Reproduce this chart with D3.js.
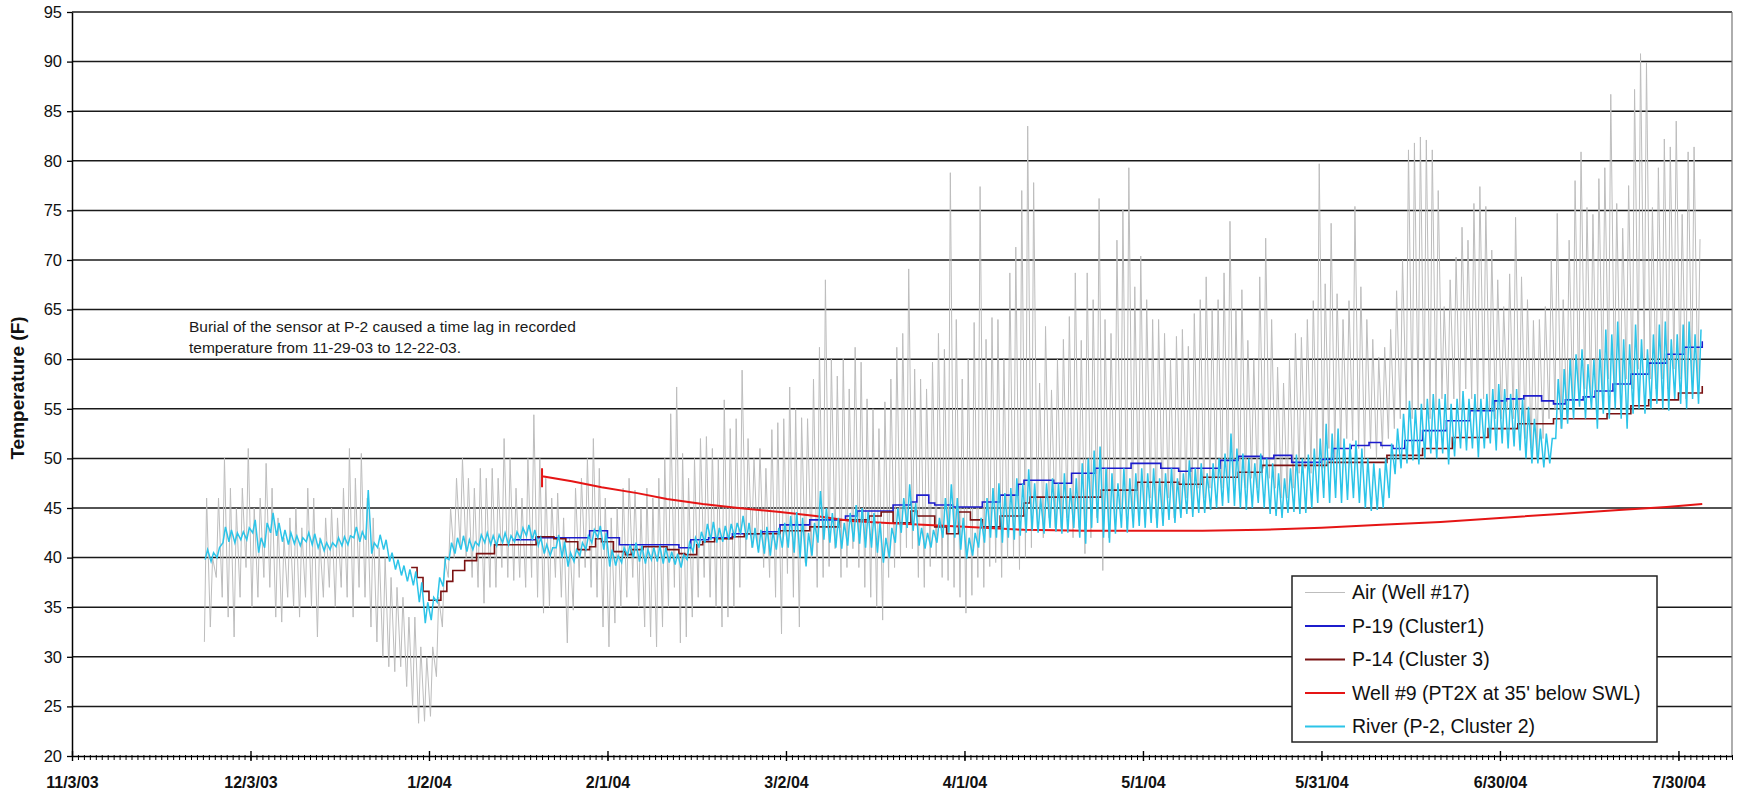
<!DOCTYPE html>
<html>
<head>
<meta charset="utf-8">
<script src="https://cdnjs.cloudflare.com/ajax/libs/d3/7.8.5/d3.min.js"></script>
<style>
body { margin: 0; background: #fff; }
text { font-family: "Liberation Sans", Arial, sans-serif; }
</style>
</head>
<body>
<div id="chart"></div>
<script>
// axis labels
var tickLabels = ["11/3/03", "12/3/03", "1/2/04", "2/1/04", "3/2/04", "4/1/04", "5/1/04", "5/31/04", "6/30/04", "7/30/04"];
var yTicks = [20, 25, 30, 35, 40, 45, 50, 55, 60, 65, 70, 75, 80, 85, 90, 95];
var seriesNames = ["Air (Well #17)", "P-19 (Cluster1)", "P-14 (Cluster 3)", "Well #9 (PT2X at 35' below SWL)", "River (P-2, Cluster 2)"];
var seriesColors = ["#bdbdbd", "#1c1ccc", "#7a1212", "#e51515", "#2cc4e8"];

// Air (Well #17): daily highs / lows from 11/25/03, one row = one week
var airStart = "2003-11-25";
var airHigh = [
  46, 40, 46, 50, 47, 45, 47,
  51, 45, 46, 49.5, 47, 44, 42,
  44, 45, 43, 47, 46, 42, 44,
  45, 44, 47, 51, 48, 50.5, 46,
  44, 41, 40, 38, 37, 36, 34,
  34, 31, 30, 31, 36, 40, 45,
  48, 50, 48, 47, 49, 48, 49,
  48, 52, 50, 47, 46, 50, 54.4,
  50, 48, 46, 46.5, 44, 42, 47,
  48, 50, 52, 49, 46, 44, 45,
  47, 48, 46.8, 45, 47, 46, 48,
  50, 54.5, 57.2, 50.5, 48, 50, 52,
  52.2, 51, 50, 55.9, 53, 54, 58.9,
  52, 50, 51, 49, 52.9, 53.6, 54,
  57.2, 55, 54.1, 54, 58, 61.2, 68,
  60, 58.3, 60.1, 57, 61.2, 59.7, 56,
  55, 53, 55.7, 58, 61.2, 62.6, 69.1,
  59, 58, 57, 59.7, 62.6, 61, 78.8,
  64, 58, 60, 63.7, 77.4, 62, 64.2,
  64, 60, 68.7, 71.3, 77, 83.5, 77.8,
  57.6, 63.3, 56.9, 60, 62, 64.3, 68.7,
  61.9, 68.7, 66, 76.2, 64, 62.6, 72,
  75.1, 79.3, 67.3, 70.4, 66, 64, 64,
  62.6, 60, 62.3, 63, 61.3, 64.6, 66,
  68.3, 65, 66, 68.7, 73.9, 65, 67,
  61.9, 60, 68.3, 72.2, 64, 59.2, 57.6,
  60, 62.6, 62.2, 64, 65.9, 79.7, 67.6,
  73.7, 66.6, 64, 65.9, 75.4, 67.3, 64,
  62, 60.2, 61.2, 63, 66.9, 70, 81.1,
  81.8, 82.4, 82.1, 81.1, 77, 65.3, 68,
  70.3, 73.3, 72, 75.7, 77.4, 75.4, 71,
  68, 65.3, 68.6, 74.3, 68.3, 66, 63.9,
  64, 65.3, 70, 74.7, 66, 72, 78,
  80.9, 75.3, 74.6, 78.2, 79.3, 86.7, 75.7,
  73.2, 77.5, 87.2, 90.8, 89.9, 75.3, 79.3,
  82.2, 81.4, 84, 74.6, 80.9, 81.4, 72.1
];
var airLow = [
  31.5, 33, 38, 36, 34, 32, 36,
  39, 35, 36, 38, 37, 34, 33.5,
  36, 35, 34, 36, 35, 32, 36,
  37, 35, 37, 36, 34, 37, 36,
  33, 31.5, 30, 29, 28.5, 29, 27,
  25, 23.3, 23.5, 24, 28, 33, 38,
  40, 41, 40, 38, 37, 35.4, 37,
  37, 39, 38, 37.7, 38, 37, 38,
  36, 34.4, 35, 38, 36, 31.4, 34.7,
  38, 39, 37, 36, 33, 31, 33.4,
  35, 36, 38, 35, 33, 32, 31,
  33, 35, 37, 31.4, 32, 34, 36,
  38, 36, 35, 33, 34, 35, 37,
  40, 41, 40.9, 39, 38, 36, 32.3,
  38.4, 36, 33, 39.5, 40, 37, 38,
  39.1, 40.9, 38, 39, 40.9, 39, 37,
  36, 35, 33.7, 38, 39, 40, 41,
  40.9, 38, 37, 39.1, 40, 38, 37.7,
  37, 36, 34.4, 36.2, 38, 37, 39.1,
  39.5, 38, 39.9, 40, 38.8, 40, 41,
  43, 42, 44, 43, 43, 44, 42,
  43, 40.4, 42, 44, 38.7, 42, 44,
  45, 43, 44, 45, 45, 46, 44,
  45, 46, 44, 45, 46, 45, 47,
  46, 47, 48, 47, 48, 47, 46,
  47, 48, 47, 49, 48, 47, 46,
  46, 47, 48.5, 49, 48.5, 50, 49,
  51, 50, 51, 52, 51.8, 51, 50,
  51, 50, 51, 52, 53, 54, 55,
  54, 55, 55, 54, 55, 56, 55,
  56, 55, 57, 56, 55, 56, 55,
  54, 54, 55, 54, 53, 52, 51,
  50, 52, 54, 55, 53, 54, 55,
  56, 57, 56, 55, 57, 58, 57,
  56, 58, 57, 59, 60, 58, 57,
  58, 57, 59, 58, 56, 58, 57
];

// River (P-2, Cluster 2): daily highs / lows from 11/25/03
var riverStart = "2003-11-25";
var riverHigh = [
  40.8, 40.5, 41, 43.1, 42.8, 42.5, 42.6,
  43, 43.8, 42, 43.5, 44.5, 43.5, 42.8,
  42.5, 42.2, 42, 42.5, 42.4, 41.8, 41.5,
  41.5, 42, 42.1, 42.2, 43.1, 42.6, 46.8,
  41.5, 42.3, 41.8, 40.5, 39.8, 39.2, 38.8,
  38.6, 37.5, 35.5, 36, 38, 40, 41.5,
  42, 42.2, 41.8, 41.6, 42.3, 42.5, 42.2,
  42.3, 42.5, 42.2, 42.6, 43, 43.3, 42.8,
  42, 41.3, 41, 42.3, 41.6, 40.5, 40.8,
  41.5, 42.2, 42.8, 43.2, 42.5, 40.8, 40.2,
  41, 41.3, 41.5, 41.2, 40.8, 41, 41.2,
  41, 40.6, 40.4, 40.3, 41.5, 42, 42.6,
  43.4, 43.6, 43, 43.2, 43.4, 43.5, 44.2,
  43.5, 43, 42.8, 43.1, 42.6, 43, 43.5,
  44.2, 44.6, 44, 42.5, 43.5, 46.7, 45,
  44.5, 44, 43.5, 44.5, 45.3, 45, 44.6,
  44.5, 43.5, 42, 43, 45, 46, 47.4,
  45.5, 43, 42.5, 42.8, 44, 46, 47.4,
  46, 44, 42, 42.5, 44, 46, 47,
  47.5, 46.5, 47, 48, 47.5, 48.9, 47.5,
  46, 47.5, 48, 47.5, 48.5, 47, 48,
  49.5, 50, 50.8, 51.2, 49, 48.5, 47.5,
  49, 48, 48.5, 49, 48.5, 49, 48,
  48.5, 49, 48, 48.5, 49.8, 49, 49.5,
  48.5, 49.5, 50, 50.5, 52.5, 51, 50.5,
  50, 49.5, 50.5, 50, 49.5, 48.5, 48,
  49, 50.4, 50, 50.4, 51, 52, 53.5,
  52.5, 53, 52, 51.5, 51.8, 51, 50,
  49.5, 49, 50, 51.5, 53, 54.5, 55.8,
  55, 55.5, 56, 56.5, 56, 56.5, 55.5,
  56, 56.8, 56, 56.5, 56, 56.5, 57,
  57.5, 57, 56.5, 57, 56, 55.2, 54,
  53, 52.5, 52, 58, 59, 60, 60.5,
  61, 59.5, 60, 61, 63, 62.5, 63.8,
  62, 61.5, 63.5, 62, 61, 62.5, 63.5,
  63.8, 62, 62.5, 63.5, 63.8, 62.5, 63
];
var riverLow = [
  39.8, 39.6, 40, 41.5, 41.6, 41.5, 41.8,
  41.8, 42.5, 40.5, 41, 42.5, 42.2, 41.6,
  41.3, 41.4, 41.2, 41.6, 41.3, 41, 40.7,
  40.8, 41.1, 41.2, 41.3, 42, 41.6, 41.8,
  40.4, 41, 40.8, 39.6, 38.8, 38.2, 37.6,
  37.2, 35.5, 33.4, 33.7, 35.5, 37.1, 39.8,
  40.4, 40.8, 40.6, 40.8, 41.2, 41.5, 41.3,
  41.2, 41.5, 41.3, 41.6, 41.9, 42.2, 41.8,
  41.2, 40.4, 40.2, 41, 40, 39.1, 39.6,
  40.2, 40.8, 41.5, 42, 40.8, 39.1, 39.2,
  39.5, 40.2, 40, 39.6, 39.4, 39.8, 39.6,
  39.4, 39.5, 39.3, 39, 39.8, 40.6, 41,
  41.5, 41.8, 41.5, 41.6, 41.8, 42, 42.4,
  41.8, 41, 40.5, 40.4, 40.2, 40.8, 41,
  41, 40.5, 40, 39.1, 40.2, 41.5, 41.8,
  41.5, 41, 40.9, 41.2, 41.6, 41.4, 41,
  41, 40.5, 39.5, 40, 41.5, 42.5, 43,
  42.7, 41.2, 40.9, 41, 41.5, 42, 42.5,
  42, 40.8, 39.9, 40.2, 41, 41.5, 42,
  42, 41.5, 42, 41.8, 42.2, 42.5, 42.7,
  42.5, 42.4, 43, 42.6, 42.4, 42.5, 43,
  42, 41.4, 43, 43.5, 42, 41.5, 42.4,
  43, 42.5, 43, 43.2, 43, 43.5, 43,
  43.2, 43.8, 43.5, 44, 44.4, 44.1, 44.5,
  44.5, 44.8, 45, 45.2, 45.5, 45.2, 45,
  44.8, 45, 45.5, 45, 44.4, 44.2, 44,
  44.5, 44.6, 44.4, 44.5, 45, 45.5, 46,
  45.5, 46, 45.5, 45.8, 46, 45.5, 45,
  44.7, 44.8, 45, 46, 48.4, 49, 49.5,
  49.8, 49.4, 50, 50.5, 50, 50.5, 49.4,
  50.2, 51, 50.8, 51, 50.1, 51, 51.5,
  50.8, 51.5, 51, 51.2, 50.8, 50, 49.5,
  49.5, 49.1, 49.5, 52, 53, 53.5, 54,
  55.2, 54, 55, 53, 54.5, 54, 55,
  54, 53, 54.5, 55, 54.5, 55, 55.5,
  55, 54.8, 56, 55.5, 55, 56, 55.5
];

// P-19 (Cluster1): logger steps
var p19Dates = ["2004-01-16", "2004-01-20", "2004-01-29", "2004-02-01", "2004-02-03", "2004-02-13", "2004-02-15", "2004-02-18",
  "2004-02-22", "2004-02-27", "2004-03-01", "2004-03-06", "2004-03-12", "2004-03-14", "2004-03-20", "2004-03-23", "2004-03-24",
  "2004-03-26", "2004-03-27", "2004-03-30", "2004-04-04", "2004-04-07", "2004-04-10", "2004-04-11", "2004-04-16", "2004-04-19",
  "2004-04-23", "2004-04-29", "2004-05-04", "2004-05-07", "2004-05-09", "2004-05-14", "2004-05-17", "2004-05-21", "2004-05-23",
  "2004-05-26", "2004-05-31", "2004-06-02", "2004-06-05", "2004-06-08", "2004-06-10", "2004-06-12", "2004-06-14", "2004-06-17",
  "2004-06-21", "2004-06-25", "2004-06-29", "2004-07-01", "2004-07-04", "2004-07-07", "2004-07-09", "2004-07-11", "2004-07-14",
  "2004-07-16", "2004-07-19", "2004-07-22", "2004-07-25", "2004-07-28", "2004-07-31", "2004-08-03"];
var p19Temps = [41.8, 42.0, 42.7, 42.0, 41.3, 41.0, 41.8, 42.0,
  42.4, 42.6, 43.3, 43.8, 44.2, 44.7, 45.3, 45.6, 46.3,
  45.5, 45.3, 45.1, 45.6, 46.3, 47.4, 47.8, 47.5, 48.5,
  49.0, 49.5, 49.0, 48.7, 49.0, 49.8, 50.2, 50.0, 50.3,
  49.6, 49.9, 51.0, 51.3, 51.6, 51.3, 51.0, 51.8, 52.8,
  53.8, 54.8, 55.8, 56.0, 56.3, 55.8, 55.5, 55.9, 56.2,
  56.8, 57.5, 58.5, 59.6, 60.5, 61.2, 61.8];

// P-14 (Cluster 3): logger steps
var p14Dates = ["2003-12-30", "2003-12-31", "2004-01-01", "2004-01-02", "2004-01-04", "2004-01-05", "2004-01-06", "2004-01-08",
  "2004-01-10", "2004-01-13", "2004-01-20", "2004-01-23", "2004-01-25", "2004-01-27", "2004-01-29", "2004-01-30",
  "2004-01-31", "2004-02-02", "2004-02-04", "2004-02-05", "2004-02-07", "2004-02-11", "2004-02-13", "2004-02-14", "2004-02-16",
  "2004-02-17", "2004-02-19", "2004-02-22", "2004-02-24", "2004-03-01", "2004-03-06", "2004-03-11", "2004-03-16", "2004-03-18",
  "2004-03-20", "2004-03-23", "2004-03-24", "2004-03-27", "2004-03-29", "2004-03-31", "2004-04-02", "2004-04-04", "2004-04-07",
  "2004-04-11", "2004-04-12", "2004-04-24", "2004-04-30", "2004-05-07", "2004-05-11", "2004-05-17", "2004-05-21", "2004-06-01",
  "2004-06-11", "2004-06-17", "2004-06-22", "2004-06-28", "2004-07-03", "2004-07-09", "2004-07-18", "2004-07-22", "2004-07-25",
  "2004-07-30", "2004-08-03"];
var p14Temps = [39.0, 38.0, 36.6, 35.7, 36.6, 37.6, 38.7, 39.7,
  40.4, 41.3, 42.1, 41.9, 41.6, 40.8, 41.1, 41.9,
  41.6, 40.6, 40.3, 40.8, 41.1, 40.8, 40.4, 40.3, 41.3,
  41.6, 41.9, 42.1, 42.4, 42.7, 43.1, 43.8, 44.2, 44.6,
  43.5, 44.7, 44.2, 43.1, 42.4, 44.6, 43.8, 43.1, 44.2,
  45.5, 46.1, 46.8, 47.6, 47.4, 48.1, 48.6, 49.3, 49.6,
  50.3, 51.0, 52.1, 53.0, 53.5, 54.0, 54.5, 55.3, 55.9,
  56.6, 57.3];

// Well #9 (PT2X at 35' below SWL)
var well9Dates = ["2004-01-21", "2004-01-21", "2004-01-21", "2004-01-26", "2004-01-31", "2004-02-06", "2004-02-11", "2004-02-17",
  "2004-02-23", "2004-03-01", "2004-03-07", "2004-03-13", "2004-03-19", "2004-03-25", "2004-04-01", "2004-04-11", "2004-04-21",
  "2004-05-01", "2004-05-11", "2004-05-21", "2004-05-31", "2004-06-10", "2004-06-20", "2004-06-30", "2004-07-10", "2004-07-20",
  "2004-07-28", "2004-08-03"];
var well9Temps = [49.0, 47.1, 48.2, 47.7, 47.1, 46.5, 45.9, 45.4,
  45.0, 44.6, 44.2, 43.7, 43.5, 43.3, 43.1, 42.8, 42.7,
  42.7, 42.7, 42.8, 43.0, 43.3, 43.6, 44.0, 44.4, 44.8,
  45.1, 45.4];

var margin = {top: 12, right: 7, bottom: 41, left: 72},
    width = 1739 - margin.left - margin.right,
    height = 797 - margin.top - margin.bottom;

var parseDay = d3.utcParse("%Y-%m-%d");
var parseTick = d3.utcParse("%m/%d/%y");
var tickDates = tickLabels.map(parseTick);

var x = d3.scaleUtc()
    .domain([tickDates[0], d3.utcDay.offset(tickDates[tickDates.length - 1], 9)])
    .range([0, width]);
var y = d3.scaleLinear().domain([20, 95]).range([height, 0]);

function dailyPoints(start, lows, highs, hLow, hHigh) {
  var t0 = parseDay(start), pts = [];
  lows.forEach(function(lo, i) {
    var day = d3.utcDay.offset(t0, i);
    pts.push({date: d3.utcHour.offset(day, hLow), temp: lo});
    pts.push({date: d3.utcHour.offset(day, hHigh), temp: highs[i]});
  });
  return pts;
}
function pairPoints(dates, temps) {
  return dates.map(function(d, i) { return {date: parseDay(d), temp: temps[i]}; });
}

var airData = dailyPoints(airStart, airLow, airHigh, 6, 15);
var riverData = dailyPoints(riverStart, riverLow, riverHigh, 9, 19);
var p19Data = pairPoints(p19Dates, p19Temps);
var p14Data = pairPoints(p14Dates, p14Temps);
var well9Data = pairPoints(well9Dates, well9Temps);

var svg = d3.select("#chart").append("svg")
    .attr("width", 1739)
    .attr("height", 797)
  .append("g")
    .attr("transform", "translate(" + margin.left + "," + margin.top + ")");

svg.append("clipPath").attr("id", "plotclip")
  .append("rect").attr("width", width).attr("height", height);

// gridlines
svg.selectAll(".grid")
    .data(yTicks.filter(function(v) { return v > 20; }))
  .enter().append("line")
    .attr("class", "grid")
    .attr("x1", 0).attr("x2", width)
    .attr("y1", function(d) { return y(d); })
    .attr("y2", function(d) { return y(d); })
    .attr("stroke", "#1a1a1a")
    .attr("stroke-width", 1.5);

// right border
svg.append("line")
    .attr("x1", width).attr("x2", width)
    .attr("y1", 0).attr("y2", height)
    .attr("stroke", "#777").attr("stroke-width", 1.2);

var plot = svg.append("g").attr("clip-path", "url(#plotclip)");

var line = d3.line()
    .x(function(d) { return x(d.date); })
    .y(function(d) { return y(d.temp); });
var stepLine = d3.line()
    .curve(d3.curveStepAfter)
    .x(function(d) { return x(d.date); })
    .y(function(d) { return y(d.temp); });

plot.append("path").datum(airData)
    .attr("fill", "none").attr("stroke", seriesColors[0]).attr("stroke-width", 1)
    .attr("d", line);
plot.append("path").datum(p19Data)
    .attr("fill", "none").attr("stroke", seriesColors[1]).attr("stroke-width", 1.6)
    .attr("d", stepLine);
plot.append("path").datum(p14Data)
    .attr("fill", "none").attr("stroke", seriesColors[2]).attr("stroke-width", 1.6)
    .attr("d", stepLine);
plot.append("path").datum(well9Data)
    .attr("fill", "none").attr("stroke", seriesColors[3]).attr("stroke-width", 2)
    .attr("d", line);
plot.append("path").datum(riverData)
    .attr("fill", "none").attr("stroke", seriesColors[4]).attr("stroke-width", 1.5)
    .attr("d", line);

// y axis
var yAxis = svg.append("g")
    .call(d3.axisLeft(y).tickValues(yTicks).tickSize(5).tickPadding(5).tickSizeOuter(0));
yAxis.select(".domain").attr("stroke", "#000").attr("stroke-width", 1.5);
yAxis.selectAll(".tick line").attr("stroke", "#000").attr("stroke-width", 1.3);
yAxis.selectAll("text")
    .style("font-size", "16.5px")
    .attr("fill", "#111");

// x axis: daily minor ticks
var xMinor = svg.append("g")
    .attr("transform", "translate(0," + height + ")")
    .call(d3.axisBottom(x).ticks(d3.utcDay.every(1)).tickSize(4).tickFormat("").tickSizeOuter(0));
xMinor.select(".domain").attr("stroke", "#000").attr("stroke-width", 1.5);
xMinor.selectAll(".tick line").attr("stroke", "#000").attr("stroke-width", 1).attr("y1", -1);

// x axis: 30 day major ticks
var xAxis = svg.append("g")
    .attr("transform", "translate(0," + height + ")")
    .call(d3.axisBottom(x).tickValues(tickDates)
      .tickFormat(function(d, i) { return tickLabels[i]; })
      .tickSize(5).tickSizeOuter(0));
xAxis.select(".domain").remove();
xAxis.selectAll(".tick line").attr("stroke", "#000").attr("stroke-width", 1.4).attr("y1", -5);
xAxis.selectAll("text")
    .attr("y", 32).attr("dy", 0)
    .style("font-size", "16px")
    .style("font-weight", "bold")
    .attr("fill", "#111");

// y axis title
svg.append("text")
    .attr("transform", "translate(" + (17.5 - margin.left) + "," + (height / 2 + 4) + ") rotate(-90)")
    .attr("text-anchor", "middle")
    .attr("dy", "0.35em")
    .style("font-size", "19px")
    .style("font-weight", "bold")
    .attr("fill", "#111")
    .text("Temperature (F)");

// annotation
var note = svg.append("text")
    .attr("x", 189 - margin.left)
    .attr("y", 332 - margin.top)
    .style("font-size", "15.5px")
    .attr("fill", "#1a1a1a");
note.append("tspan").attr("x", 189 - margin.left).text("Burial of the sensor at P-2 caused a time lag in recorded");
note.append("tspan").attr("x", 189 - margin.left).attr("dy", 20.5).text("temperature from 11-29-03 to 12-22-03.");

// legend
var legend = svg.append("g")
    .attr("transform", "translate(" + (1292 - margin.left) + "," + (576 - margin.top) + ")");
legend.append("rect")
    .attr("width", 365).attr("height", 166)
    .attr("fill", "#fff").attr("stroke", "#222").attr("stroke-width", 1.5);
var items = legend.selectAll(".item")
    .data(seriesNames)
  .enter().append("g")
    .attr("class", "item")
    .attr("transform", function(d, i) { return "translate(0," + (16.5 + i * 33.5) + ")"; });
items.append("line")
    .attr("x1", 13).attr("x2", 53)
    .attr("stroke", function(d, i) { return seriesColors[i]; })
    .attr("stroke-width", function(d, i) { return i === 0 ? 1.2 : 1.8; });
items.append("text")
    .attr("x", 60)
    .attr("dy", "0.35em")
    .style("font-size", "19.5px")
    .attr("fill", "#111")
    .text(function(d) { return d; });
</script>
</body>
</html>
